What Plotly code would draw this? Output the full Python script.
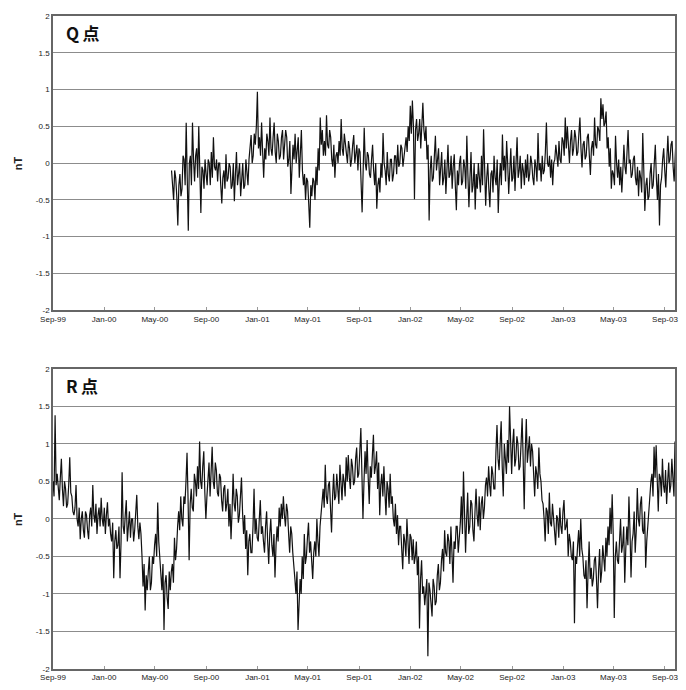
import pandas as pd
import plotly.graph_objects as go

# ---------------- data (2.5-day steps) ----------------
q_start = "2000-06-10"
q_values = [
    -0.1, -0.35, -0.5, -0.1, -0.2, -0.45, -0.85, -0.3, -0.15, -0.45,
    -0.35, 0.1, 0.05, -0.3, 0.55, -0.2, -0.92, 0.0, 0.1, -0.3,
    0.55, 0.05, -0.25, 0.1, 0.2, -0.2, 0.5, -0.1, -0.68, -0.05,
    -0.1, -0.35, 0.05, -0.15, -0.3, 0.05, 0.0, -0.3, 0.15, -0.2,
    0.35, -0.05, -0.1, 0.05, -0.25, 0.0, 0.0, -0.3, -0.55, -0.2,
    -0.1, -0.35, 0.12, -0.25, -0.2, 0.0, -0.05, -0.35, -0.3, 0.0,
    -0.52, -0.15, 0.15, -0.3, -0.1, 0.0, -0.45, -0.15, 0.0, -0.35,
    -0.3, 0.05, -0.1, -0.3, 0.05, 0.2, 0.38, 0.0, 0.1, 0.4,
    0.25, 0.5, 0.97, 0.2, 0.35, 0.1, 0.55, 0.15, -0.2, 0.2,
    0.05, 0.4, 0.3, 0.1, 0.62, 0.2, 0.1, 0.35, 0.55, 0.15,
    0.0, 0.4, 0.3, 0.05, 0.1, 0.35, 0.45, 0.05, 0.2, 0.45,
    0.35, -0.05, 0.05, 0.3, -0.42, 0.0, 0.25, 0.05, 0.4, 0.0,
    0.15, 0.35, -0.2, 0.1, 0.45, -0.1, -0.3, -0.15, -0.5, -0.2,
    -0.25, -0.55, -0.88, -0.3, -0.45, -0.2, -0.25, -0.5, -0.05, -0.3,
    0.2, -0.1, 0.62, 0.25, 0.45, 0.1, 0.3, 0.1, 0.65, 0.25,
    0.2, 0.45, 0.35, 0.05, -0.05, 0.25, -0.2, 0.1, 0.15, 0.0,
    0.3, 0.1, 0.6, 0.2, 0.1, 0.4, 0.25, 0.05, 0.0, 0.3,
    0.2, -0.05, 0.05, 0.25, 0.38, 0.0, 0.1, 0.25, -0.1, 0.2,
    0.15, -0.2, -0.67, -0.1, 0.48, 0.0, -0.1, 0.15, 0.1, -0.15,
    -0.2, 0.05, 0.25, -0.1, -0.3, 0.0, -0.62, -0.3, -0.2, -0.4,
    0.0, -0.2, 0.41, 0.0, -0.1, -0.3, 0.15, -0.15, -0.25, 0.05,
    0.05, -0.25, -0.15, 0.1, 0.1, -0.15, 0.25, -0.05, 0.0, 0.25,
    0.2, -0.05, 0.1, 0.3, 0.35, 0.15, 0.5, 0.3, 0.78, 0.4,
    0.85, 0.5, -0.49, 0.45, 0.6, 0.3, 0.4, 0.6, 0.2, 0.5,
    0.82, 0.45, 0.3, 0.5, 0.05, 0.25, -0.78, -0.1, 0.1, -0.25,
    -0.2, 0.1, 0.37, -0.1, 0.05, 0.2, -0.3, 0.05, 0.15, -0.3,
    -0.2, 0.05, -0.42, -0.1, 0.25, -0.2, -0.15, 0.1, -0.35, -0.05,
    0.12, -0.3, -0.64, -0.1, -0.3, 0.0, 0.1, -0.3, -0.25, 0.05,
    -0.05, -0.35, 0.37, -0.15, -0.6, -0.2, 0.15, -0.4, -0.3, 0.0,
    -0.63, -0.15, -0.35, 0.0, -0.15, -0.4, 0.1, -0.3, 0.46, -0.1,
    -0.58, -0.2, 0.0, -0.35, -0.6, -0.15, -0.1, -0.4, 0.1, -0.2,
    -0.3, 0.05, -0.68, -0.25, 0.0, -0.3, 0.39, -0.1, 0.1, -0.25,
    0.3, 0.0, -0.42, -0.1, 0.2, -0.25, -0.2, 0.1, -0.38, 0.0,
    0.35, -0.2, -0.1, 0.1, -0.35, 0.0, -0.1, -0.3, 0.05, -0.2,
    0.12, -0.25, -0.15, 0.1, 0.0, -0.2, -0.3, 0.05, -0.05, -0.25,
    0.41, -0.1, 0.0, -0.25, 0.1, -0.15, -0.1, 0.15, 0.55, 0.0,
    -0.05, 0.1, -0.2, 0.05, -0.3, 0.0, 0.05, 0.25, 0.1, -0.05,
    0.3, 0.05, 0.0, 0.35, 0.3, 0.1, 0.62, 0.2, 0.5, 0.15,
    0.0, 0.3, 0.45, 0.1, 0.2, 0.45, 0.35, 0.1, 0.15, 0.4,
    0.62, 0.2, -0.06, 0.25, 0.3, 0.05, 0.1, 0.35, 0.4, 0.1,
    -0.16, 0.2, 0.3, 0.1, 0.62, 0.25, 0.2, 0.5, 0.45, 0.3,
    0.88, 0.6, 0.8, 0.5, 0.55, 0.7, 0.2, 0.35, -0.05, 0.2,
    -0.35, -0.1, -0.15, -0.3, 0.37, 0.0, -0.2, 0.05, -0.3, -0.05,
    -0.4, -0.1, 0.25, -0.05, -0.15, 0.15, 0.45, 0.0, 0.05, -0.2,
    -0.15, 0.05, 0.1, -0.2, -0.3, -0.05, -0.45, -0.1, -0.2, -0.4,
    0.41, -0.1, -0.65, -0.3, -0.2, -0.5, -0.45, -0.15, 0.0, -0.35,
    -0.3, 0.0, 0.25, -0.2, -0.5, -0.15, -0.85, -0.3, -0.2, 0.05,
    0.2, -0.1, -0.33, 0.05, 0.37, 0.0, 0.05, 0.25, 0.3, -0.05,
    -0.25, 0.1, 0.39,
]

r_start = "1999-09-01"
r_values = [
    0.5, 0.3, 1.38, 0.45, 0.6, 0.35, 0.25, 0.55, 0.8, 0.4,
    0.17, 0.5, 0.4, 0.15, 0.2, 0.45, 0.82, 0.35, 0.3, 0.1,
    0.05, 0.15, 0.45, 0.0, -0.1, 0.15, -0.27, 0.0, 0.1, -0.15,
    -0.25, 0.1, 0.05, -0.15, -0.27, 0.05, 0.15, -0.1, 0.45, 0.05,
    -0.05, 0.2, -0.2, 0.05, 0.15, -0.1, 0.28, 0.0, -0.1, 0.15,
    -0.2, 0.05, 0.22, -0.1, 0.0, -0.2, -0.3, -0.05, -0.79, -0.3,
    -0.15, -0.4, -0.35, -0.1, -0.79, -0.3, 0.62, -0.1, -0.2, 0.05,
    0.25, -0.3, -0.1, 0.1, -0.25, 0.0, 0.0, -0.3, -0.15, 0.05,
    0.32, -0.1, -0.27, -0.05, -0.2, -0.5, -0.9, -0.6, -1.22, -0.75,
    -0.95, -0.7, -0.5, -0.95, -0.85, -0.5, -0.6, -0.35, -0.2, -0.5,
    0.22, -0.3, -0.55, -0.75, -0.95, -0.6, -1.48, -0.85, -0.75, -1.05,
    -1.2, -0.7, -0.95, -0.7, -0.6, -0.85, -0.25, -0.55, -0.4, -0.1,
    0.1, -0.15, 0.3, 0.0, -0.1, 0.3, 0.2, 0.5, 0.88, 0.25,
    -0.55, 0.2, 0.4, 0.15, 0.1, 0.6, 0.5, 0.3, 0.7, 0.4,
    1.03, 0.5, 0.4, 0.7, 0.9, 0.35, 0.0, 0.3, 0.5, 0.75,
    0.3, 0.55, 0.96, 0.5, 0.4, 0.75, 0.65, 0.35, 0.3, 0.6,
    0.55, 0.25, 0.1, 0.4, 0.45, 0.1, 0.2, 0.4, -0.1, 0.2,
    -0.27, 0.1, 0.6, 0.2, 0.1, 0.4, 0.3, -0.05, 0.05, 0.3,
    0.55, 0.1, -0.2, 0.05, -0.4, -0.15, -0.75, -0.3, -0.2, -0.45,
    -0.45, -0.1, 0.4, -0.2, 0.0, -0.25, -0.3, 0.0, 0.25, -0.2,
    -0.1, -0.3, -0.45, -0.1, 0.1, -0.3, -0.6, -0.2, 0.0, -0.35,
    -0.5, -0.2, -0.78, -0.35, -0.1, -0.3, 0.15, -0.1, 0.2, 0.0,
    0.3, 0.05, -0.1, 0.2, 0.1, -0.2, -0.45, -0.1, -0.2, -0.45,
    -0.58, -0.8, -1.0, -0.7, -1.48, -1.05, -0.8, -1.0, -0.5, -0.8,
    -0.2, -0.6, -0.5, -0.25, -0.05, -0.45, -0.3, -0.55, -0.8, -0.45,
    -0.3, -0.5, 0.0, -0.3, -0.5, -0.1, 0.1, 0.3, 0.4, 0.15,
    0.72, 0.3, 0.2, 0.45, 0.5, 0.15, -0.18, 0.3, 0.6, 0.25,
    0.3, 0.6, 0.45, 0.2, 0.72, 0.4, 0.25, 0.6, 0.5, 0.3,
    0.82, 0.5, 0.85, 0.55, 0.4, 0.8, 0.7, 0.45, 0.5, 0.8,
    0.95, 0.55, 0.6, 0.9, 1.21, 0.6, 0.0, 0.5, 0.9, 0.6,
    1.05, 0.55, 0.2, 0.7, 0.55, 0.85, 1.12, 0.6, 0.7, 0.9,
    0.4, 0.75, 0.05, 0.45, 0.6, 0.3, 0.7, 0.35, 0.05, 0.5,
    0.4, 0.15, 0.6, 0.2, 0.3, 0.0, -0.1, 0.2, -0.2, 0.05,
    -0.35, -0.1, -0.1, -0.4, -0.67, -0.2, -0.3, -0.5, 0.0, -0.3,
    -0.6, -0.2, -0.25, -0.55, -0.27, -0.6, -0.5, -0.3, -0.75, -0.5,
    -1.46, -0.8, -0.55, -1.0, -0.9, -1.15, -1.0, -0.8, -1.83, -0.85,
    -0.95, -1.2, -1.3, -0.8, -0.9, -1.15, -1.1, -0.75, -0.6, -0.95,
    -0.85, -0.55, -0.4, -0.7, -0.15, -0.45, -0.5, -0.2, -0.3, -0.6,
    -0.1, -0.45, -0.85, -0.3, -0.4, -0.1, -0.1, -0.45, -0.3, -0.05,
    0.3, -0.2, 0.63, 0.1, -0.45, 0.0, 0.35, -0.2, -0.1, 0.25,
    0.2, -0.15, -0.3, 0.1, 0.4, 0.05, -0.1, 0.3, -0.15, 0.2,
    0.3, 0.0, 0.15, 0.45, 0.55, 0.3, 0.7, 0.45, 0.3, 0.7,
    0.6, 0.4, 0.4, 0.9, 1.25, 0.8, 0.65, 1.0, 1.3, 0.7,
    0.3, 1.0, 0.8, 0.6, 1.05, 0.75, 1.5, 0.9, 0.6, 1.0,
    1.2, 0.7, 0.8, 1.1, 1.0, 0.65, 0.7, 1.0, 1.34, 0.8,
    0.13, 0.9, 1.33, 0.75, 0.9, 1.1, 0.7, 1.0, 0.9, 0.5,
    0.3, 0.7, 0.6, 0.4, 0.95, 0.6, 0.5, 0.25, 0.2, 0.0,
    -0.3, 0.15, 0.1, -0.2, 0.35, -0.05, -0.1, 0.2, 0.05, -0.2,
    -0.35, 0.05, 0.0, -0.25, 0.15, -0.1, -0.2, 0.1, 0.25, -0.15,
    -0.1, 0.0, -0.5, -0.2, -0.3, -0.5, -0.55, -0.3, -1.39, -0.5,
    -0.6, -0.35, -0.15, -0.5, 0.0, -0.4, -0.5, -0.75, -0.8, -0.55,
    -1.19, -0.7, -0.3, -0.8, -0.65, -0.9, -0.8, -0.55, -0.5, -0.8,
    -1.19, -0.7, -0.4, -0.85, -0.7, -0.35, -0.5, -0.7, -0.25, -0.5,
    -0.1, -0.35, 0.15, -0.2, 0.33, -0.2, -1.32, -0.5, -0.3, -0.55,
    -0.6, -0.2, 0.0, -0.45, -0.35, -0.1, -0.85, -0.4, -0.1, -0.35,
    0.3, -0.15, -0.78, -0.3, -0.2, 0.1, -0.45, -0.15, 0.41, 0.0,
    -0.1, 0.2, 0.3, -0.15, -0.2, 0.1, -0.65, -0.3, -0.1, 0.2,
    0.3, 0.5, 0.6, 0.3, 0.96, 0.55, 0.98, 0.4, 0.1, 0.6,
    0.55, 0.3, 0.8, 0.45, 0.35, 0.65, 0.2, 0.5, 0.75, 0.35,
    0.45, 0.8, 0.6, 0.3, 1.03,
]

panel_titles = ["Q\u2009点", "R\u2009点"]
y_label = "nT"
y_tickvals = [2, 1.5, 1, 0.5, 0, -0.5, -1, -1.5, -2]
y_ticktext = ["2", "1.5", "1", "0.5", "0", "-0.5", "-1", "-1.5", "-2"]
x_range = ["1999-09-01", "2003-09-25"]

q_dates = pd.date_range(q_start, periods=len(q_values), freq="60h")
r_dates = pd.date_range(r_start, periods=len(r_values), freq="60h")

# ---------------- figure ----------------
fig = go.Figure()
fig.add_trace(go.Scatter(x=q_dates, y=q_values, mode="lines",
                         line=dict(color="#111111", width=1.2),
                         xaxis="x", yaxis="y", showlegend=False))
fig.add_trace(go.Scatter(x=r_dates, y=r_values, mode="lines",
                         line=dict(color="#111111", width=1.2),
                         xaxis="x2", yaxis="y2", showlegend=False))

font_family = "Liberation Sans, Arial, sans-serif"
xaxis_common = dict(
    type="date", range=x_range, tick0="1999-09-01", dtick="M4",
    tickformat="%b-%y", tickfont=dict(size=8, color="#222222", family=font_family),
    showgrid=False, zeroline=False, showline=True, mirror=True,
    linecolor="#666666", linewidth=1.5, ticks="inside", ticklen=3,
    tickcolor="#999999",
)
yaxis_common = dict(
    range=[-2, 2], tickmode="array", tickvals=y_tickvals, ticktext=y_ticktext,
    tickfont=dict(size=8, color="#222222", family=font_family),
    showgrid=True, gridcolor="#8c8c8c", gridwidth=1.3, zeroline=False,
    showline=True, mirror=True, linecolor="#666666", linewidth=1.5,
    ticks="", fixedrange=True,
)

fig.update_layout(
    width=686, height=690,
    margin=dict(l=53, r=8, t=16, b=17),
    paper_bgcolor="white", plot_bgcolor="white",
    xaxis=dict(domain=[0, 1], anchor="y", **xaxis_common),
    yaxis=dict(domain=[0.5495, 1], anchor="x", **yaxis_common),
    xaxis2=dict(domain=[0, 1], anchor="y2", **xaxis_common),
    yaxis2=dict(domain=[0, 0.4597], anchor="x2", **yaxis_common),
    font=dict(family=font_family),
)

# panel titles
for title, yv in zip(panel_titles, [0.974, 0.434]):
    fig.add_annotation(text="<b>" + title + "</b>", xref="paper", yref="paper",
                       x=0.018, y=yv, xanchor="left", yanchor="middle",
                       showarrow=False,
                       font=dict(size=17, color="#111111",
                                 family="Noto Sans CJK JP, sans-serif"))

# y-axis labels
for yv in [0.7747, 0.2298]:
    fig.add_annotation(text="<b>" + y_label + "</b>", xref="paper", yref="paper",
                       x=-0.056, y=yv, xanchor="center", yanchor="middle",
                       textangle=-90, showarrow=False,
                       font=dict(size=11, color="#222222", family=font_family))

fig.write_html("out.html")
